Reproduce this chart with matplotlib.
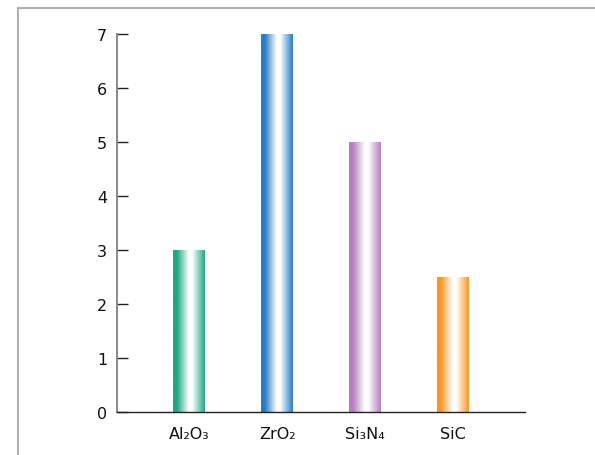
import numpy as np
import matplotlib
matplotlib.use('Agg')
import matplotlib.pyplot as plt
from matplotlib.colors import LinearSegmentedColormap, to_rgb
from matplotlib.patches import Rectangle

plt.rcParams['font.family'] = ['DejaVu Sans']

# Данные
materials = ['Al₂O₃', 'ZrO₂', 'Si₃N₄', 'SiC']
values = [3, 7, 5, 2.5]
colors = ['#22a683', '#2a7cc6', '#b47fbf', '#f79626']

fig = plt.figure(figsize=(5.95, 4.56), dpi=100)
ax = fig.add_axes([117 / 595, 1 - 413 / 456, (525 - 117) / 595, (413 - 35) / 456])

# рамка вокруг рисунка
fig.patches.append(Rectangle((18 / 595, -0.1), 1.2, 0.1 + 1 - 9 / 456,
                             transform=fig.transFigure, fill=False,
                             edgecolor='#b0b0b0', linewidth=1.5))

x = np.arange(len(materials))
bars = ax.bar(x, values, width=0.355, color='none', edgecolor='none')

# градиентная заливка столбиков
grad = np.linspace(0, 1, 256).reshape(1, -1)
for bar, c in zip(bars, colors):
    rgb = np.array(to_rgb(c))
    light = rgb + (1 - rgb) * 0.3
    cmap = LinearSegmentedColormap.from_list(
        'g', [(0, rgb), (0.12, rgb), (0.5, (1, 1, 1)), (0.6, (1, 1, 1)),
              (0.88, light), (1, rgb)])
    x0, y0 = bar.get_x(), bar.get_y()
    ax.imshow(grad, cmap=cmap, aspect='auto', zorder=2,
              extent=(x0, x0 + bar.get_width(), y0, y0 + bar.get_height()))

ax.set_xlim(-0.82, 3.82)
ax.set_ylim(0, 7)
ax.set_xticks(x)
ax.set_xticklabels(materials)
ax.set_yticks(range(0, 8))

ax.spines['top'].set_visible(False)
ax.spines['right'].set_visible(False)
ax.spines['left'].set_color('#808080')
ax.spines['left'].set_linewidth(1.3)
ax.spines['bottom'].set_color('#222222')
ax.spines['bottom'].set_linewidth(1.0)

ax.tick_params(axis='y', direction='in', length=8, width=1, color='#222222',
               labelsize=11.5, pad=7)
ax.tick_params(axis='x', length=0, labelsize=11.5, pad=10)
for lbl in ax.get_xticklabels() + ax.get_yticklabels():
    lbl.set_color('#111111')

plt.savefig('out.png', dpi=100)
